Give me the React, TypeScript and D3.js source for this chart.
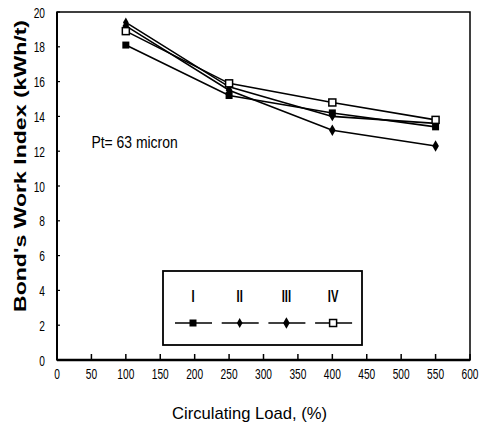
import { useRef, useEffect } from 'react';
import * as d3 from 'd3';

const loads = [100, 250, 400, 550];
const seriesNames = ['I', 'II', 'III', 'IV'];
const seriesI = [18.1, 15.2, 14.2, 13.4];
const seriesII = [19.4, 15.7, 14.0, 13.6];
const seriesIII = [19.2, 15.5, 13.2, 12.3];
const seriesIV = [18.9, 15.9, 14.8, 13.8];
const markers = ['fsquare', 'sdiamond', 'fdiamond', 'osquare'];
const xTicks = [0, 50, 100, 150, 200, 250, 300, 350, 400, 450, 500, 550, 600];
const yTicks = [0, 2, 4, 6, 8, 10, 12, 14, 16, 18, 20];

const FONT = '"Liberation Sans", Arial, sans-serif';

function drawMarker(g: any, kind: string, cx: number, cy: number) {
  if (kind === 'fsquare') {
    g.append('rect').attr('x', cx - 3.5).attr('y', cy - 3.5).attr('width', 7).attr('height', 7).attr('fill', '#000');
  } else if (kind === 'osquare') {
    g.append('rect').attr('x', cx - 3.5).attr('y', cy - 3.5).attr('width', 7).attr('height', 7)
      .attr('fill', '#fff').attr('stroke', '#000').attr('stroke-width', 1.5);
  } else {
    const s = kind === 'sdiamond' ? 28 : 38;
    g.append('path')
      .attr('d', d3.symbol(d3.symbolDiamond, s)())
      .attr('transform', `translate(${cx},${cy})`)
      .attr('fill', '#000');
  }
}

// condensed text helper
function ctext(g: any, x: number, y: number, str: string, size: number, sx: number, anchor = 'middle', weight = 'normal') {
  return g.append('text')
    .attr('transform', `translate(${x},${y}) scale(${sx},1)`)
    .attr('text-anchor', anchor)
    .attr('font-family', FONT)
    .attr('font-size', size)
    .attr('font-weight', weight)
    .text(str);
}

export default function App() {
  const svgRef = useRef<SVGSVGElement>(null);
  const width = 483;
  const height = 430;

  useEffect(() => {
    if (!svgRef.current) return;
    const svg = d3.select(svgRef.current);
    svg.selectAll('*').remove();

    const margin = { top: 12, right: 12, bottom: 70, left: 57 };
    const x = d3.scaleLinear().domain([0, 600]).range([margin.left, width - margin.right - 1]);
    const y = d3.scaleLinear().domain([0, 20]).range([height - margin.bottom, margin.top]);

    // frame
    svg.append('rect')
      .attr('x', x(0)).attr('y', y(20))
      .attr('width', x(600) - x(0)).attr('height', y(0) - y(20))
      .attr('fill', 'none').attr('stroke', '#000').attr('stroke-width', 1.5);
    svg.append('line')
      .attr('x1', x(0)).attr('x2', x(600)).attr('y1', y(0)).attr('y2', y(0))
      .attr('stroke', '#000').attr('stroke-width', 2.5);
    svg.append('line')
      .attr('x1', x(0)).attr('x2', x(0)).attr('y1', y(0)).attr('y2', y(20))
      .attr('stroke', '#000').attr('stroke-width', 2);

    // x ticks
    xTicks.forEach(t => {
      svg.append('line')
        .attr('x1', x(t)).attr('x2', x(t)).attr('y1', y(0)).attr('y2', y(0) - 6)
        .attr('stroke', '#000').attr('stroke-width', 1.5);
      ctext(svg, x(t), y(0) + 19, String(t), 15, 0.68);
    });

    // y ticks
    yTicks.forEach(t => {
      svg.append('line')
        .attr('x1', x(0)).attr('x2', x(0) + 3).attr('y1', y(t)).attr('y2', y(t))
        .attr('stroke', '#000').attr('stroke-width', 1.2);
      ctext(svg, x(0) - 12, y(t) + 5.5, String(t), 15, 0.68, 'end');
    });

    // axis titles
    svg.append('text')
      .attr('x', 172).attr('y', 419)
      .attr('textLength', 155)
      .attr('lengthAdjust', 'spacingAndGlyphs')
      .attr('font-family', FONT).attr('font-size', 17)
      .text('Circulating Load, (%)');
    svg.append('text')
      .attr('transform', `translate(26,312) rotate(-90)`)
      .attr('textLength', 292)
      .attr('lengthAdjust', 'spacingAndGlyphs')
      .attr('font-family', FONT)
      .attr('font-weight', 'bold')
      .attr('font-size', 16)
      .text("Bond's Work Index  (kWh/t)");

    // annotation
    ctext(svg, x(50), y(12.2), 'Pt= 63 micron', 16, 0.87, 'start');

    // series
    const allSeries = [seriesI, seriesII, seriesIII, seriesIV];
    const line = d3.line<number>()
      .x((_, i) => x(loads[i]))
      .y(d => y(d));
    allSeries.forEach(s => {
      svg.append('path')
        .datum(s)
        .attr('fill', 'none')
        .attr('stroke', '#000')
        .attr('stroke-width', 1.6)
        .attr('d', line);
    });
    allSeries.forEach((s, k) => {
      s.forEach((v, i) => drawMarker(svg, markers[k], x(loads[i]), y(v)));
    });

    // legend
    const lx = 163, ly = 271, lw = 199, lh = 74;
    svg.append('rect')
      .attr('x', lx).attr('y', ly).attr('width', lw).attr('height', lh)
      .attr('fill', '#fff').attr('stroke', '#000').attr('stroke-width', 1.8);
    seriesNames.forEach((name, k) => {
      const cx = 193 + k * 46.7;
      ctext(svg, cx, ly + 31, name, 16, 0.7, 'middle', 'bold');
      svg.append('line')
        .attr('x1', cx - 18).attr('x2', cx + 19).attr('y1', ly + 52).attr('y2', ly + 52)
        .attr('stroke', '#000').attr('stroke-width', 1.6);
      drawMarker(svg, markers[k], cx, ly + 52);
    });
  }, []);

  return (
    <svg
      ref={svgRef}
      width={width}
      height={height}
      style={{ position: 'absolute', left: 0, top: 0, background: '#fff' }}
    />
  );
}
